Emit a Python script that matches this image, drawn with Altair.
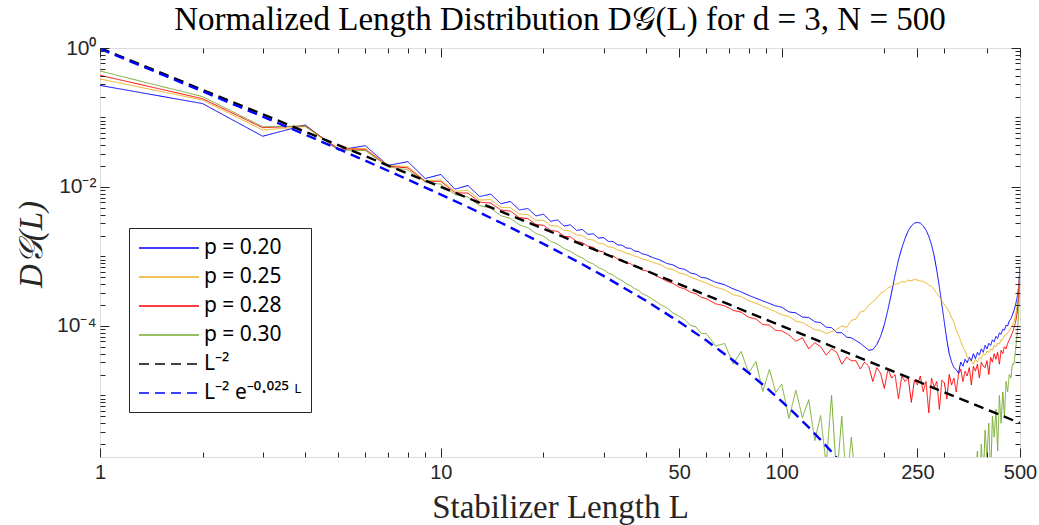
import altair as alt
import pandas as pd

# ---------------- data ----------------
# stabilizer lengths sampled (x positions)
L_grid = (list(range(1, 41)) + list(range(42, 61, 2)) +
          list(range(64, 97, 4)) + list(range(100, 501, 5)))

# decade exponent of D(L) (None = zero count, not drawn)
p20_exp = [
    -0.538, -0.80, -1.27, -1.108, -1.47, -1.406, -1.69, -1.636, -1.878, -1.82,
    -2.033, -1.978, -2.138, -2.102, -2.242, -2.208, -2.331, -2.31, -2.417, -2.392,
    -2.494, -2.475, -2.563, -2.545, -2.626, -2.61, -2.683, -2.674, -2.735, -2.729,
    -2.783, -2.785, -2.832, -2.838, -2.878, -2.883, -2.921, -2.93, -2.962, -2.974,
    -3.019, -3.052, -3.101, -3.122, -3.170, -3.187, -3.238, -3.255, -3.301, -3.310,
    -3.372, -3.407, -3.466, -3.509, -3.560, -3.601, -3.640, -3.676, -3.712,
    -3.73, -3.798, -3.812, -3.872, -3.878, -3.940, -3.952, -4.018, -4.025, -4.095, -4.098, -4.160, -4.172,
    -4.21, -4.25, -4.30, -4.35, -4.34, -4.27, -4.15, -3.98, -3.76, -3.52, -3.27, -3.05, -2.88, -2.74,
    -2.63, -2.56, -2.52, -2.51,
    -2.52, -2.56, -2.62, -2.71, -2.83, -2.99, -3.20, -3.44, -3.70, -3.95, -4.20, -4.40, -4.52, -4.60,
    -4.63, -4.68,
    -4.52, -4.58, -4.48, -4.53, -4.45, -4.50, -4.40, -4.47, -4.38, -4.42, -4.33, -4.38, -4.28, -4.33,
    -4.25, -4.28, -4.20, -4.23, -4.15, -4.18, -4.10, -4.12, -4.05, -4.06, -3.99, -4.00, -3.93, -3.90,
    -3.84, -3.78, -3.70, -3.60, -3.45, -3.15,
]
p25_exp = [
    -0.446, -0.749, -1.18, -1.13, -1.443, -1.446, -1.69, -1.706, -1.91, -1.90,
    -2.063, -2.048, -2.188, -2.182, -2.292, -2.298, -2.391, -2.396, -2.478, -2.482,
    -2.554, -2.565, -2.624, -2.635, -2.691, -2.70, -2.753, -2.764, -2.81, -2.819,
    -2.863, -2.87, -2.907, -2.923, -2.953, -2.968, -2.996, -3.01, -3.037, -3.049,
    -3.087, -3.118, -3.170, -3.188, -3.238, -3.257, -3.295, -3.326, -3.357, -3.381,
    -3.442, -3.480, -3.550, -3.577, -3.636, -3.674, -3.714, -3.758, -3.795,
    -3.84, -3.862, -3.933, -3.951, -4.003, -4.054, -4.068, -4.11, -4.08, -4.05, -4.00, -4.02, -3.92,
    -3.90, -3.80, -3.78, -3.70, -3.65, -3.60, -3.53, -3.50, -3.45, -3.43, -3.40, -3.39, -3.36, -3.37,
    -3.34, -3.35, -3.33, -3.34,
    -3.35, -3.36, -3.38, -3.41, -3.43, -3.48, -3.53, -3.58, -3.64, -3.69, -3.74, -3.80, -3.88, -3.95,
    -4.06, -4.13,
    -4.22, -4.30, -4.36, -4.44, -4.49, -4.52, -4.55, -4.48, -4.52, -4.45, -4.47, -4.40, -4.42, -4.36,
    -4.38, -4.33, -4.35, -4.28, -4.30, -4.25, -4.26, -4.20, -4.19, -4.14, -4.13, -4.10, -4.07, -4.03,
    -3.99, -3.94, -3.85, -3.72, -3.52, -3.15,
]
p28_exp = [
    -0.393, -0.73, -1.147, -1.12, -1.45, -1.461, -1.70, -1.726, -1.92, -1.92,
    -2.083, -2.088, -2.218, -2.232, -2.332, -2.348, -2.441, -2.456, -2.538, -2.552,
    -2.624, -2.64, -2.709, -2.72, -2.781, -2.80, -2.853, -2.869, -2.92, -2.934,
    -2.983, -2.99, -3.037, -3.048, -3.093, -3.103, -3.146, -3.155, -3.197, -3.204,
    -3.257, -3.307, -3.356, -3.388, -3.443, -3.467, -3.515, -3.536, -3.587, -3.606,
    -3.682, -3.71, -3.775, -3.802, -3.876, -3.899, -3.979, -3.988, -4.065,
    -4.07, -4.13, -4.22, -4.17, -4.33, -4.24, -4.30, -4.42, -4.33, -4.38, -4.55, -4.45, -4.50,
    -4.50, -4.62, -4.52, -4.58, -4.80, -4.60, -4.68, -4.90, -4.62, -4.75, -4.70, -5.05, -4.72, -4.80,
    -4.75, -5.10, -4.78, -4.85,
    -4.72, -4.95, -4.80, -5.25, -4.75, -4.88, -4.80, -5.20, -4.78, -4.82, -5.05, -4.70, -4.85, -4.75,
    -4.95, -4.70,
    -4.62, -4.80, -4.65, -4.72, -4.60, -4.85, -4.58, -4.65, -4.55, -4.75, -4.52, -4.58, -4.60, -4.50,
    -4.70, -4.45, -4.52, -4.40, -4.48, -4.38, -4.55, -4.35, -4.40, -4.30, -4.33, -4.25, -4.20, -4.15,
    -4.10, -4.03, -3.95, -3.83, -3.60, -3.15,
]
p30_exp = [
    -0.331, -0.70, -1.132, -1.125, -1.468, -1.476, -1.71, -1.756, -1.93, -1.96,
    -2.11, -2.145, -2.269, -2.304, -2.415, -2.452, -2.546, -2.586, -2.669, -2.709,
    -2.782, -2.824, -2.888, -2.926, -2.982, -3.022, -3.076, -3.108, -3.16, -3.19,
    -3.239, -3.268, -3.315, -3.347, -3.393, -3.419, -3.463, -3.487, -3.536, -3.558,
    -3.623, -3.69, -3.74, -3.814, -3.861, -3.912, -3.991, -4.014, -4.107, -4.108,
    -4.287, -4.253, -4.546, -4.367, -4.675, -4.511, -4.944, -4.626, -4.957,
    -4.836, -5.332, -4.927, -5.32, -5.061, -5.651, -5.289, -6.0, -5.0, -6.2, -5.3, -6.3, -5.6,
    -6.3, None, None, None, None, None, None, None, None, None, None, None, None, None,
    None, None, None, None,
    None, None, None, None, None, None, None, None, None, None, None, None, None, None,
    None, None,
    None, None, None, None, None, -6.2, None, -6.2, -5.8, -6.3, -5.7, -6.2, -5.5, -5.9,
    -5.4, -6.2, -5.3, -5.6, -5.2, -5.8, -5.0, -5.4, -4.95, -5.3, -4.8, -4.95, -4.7, -4.75,
    -4.55, -4.55, -4.35, -4.15, -3.85, -3.2,
]

# reference curves
ref1_L = [1, 500]
ref1_exp = [0.0, -5.398]
ref2_L = [1, 2, 3, 4, 5, 6, 8, 10, 12, 15, 20, 25, 30, 40, 50, 60, 70, 80, 90,
          100, 110, 120, 130, 140, 150]
ref2_exp = [-0.011, -0.624, -0.987, -1.247, -1.452, -1.621, -1.893, -2.109, -2.288,
            -2.515, -2.819, -3.067, -3.280, -3.638, -3.941, -4.207, -4.450, -4.675,
            -4.885, -5.086, -5.277, -5.461, -5.639, -5.812, -5.981]

series_names = ["p = 0.20", "p = 0.25", "p = 0.28", "p = 0.30"]
ref_names = ["L\u207b\u00b2", "L\u207b\u00b2 e\u207b\u2070\u00b7\u2070\u00b2\u2075 \u1d38"]
all_names = series_names + ref_names
colors = ["#0000FF", "#EDB120", "#FF0000", "#77AC30", "#000000", "#0000FF"]
dashes = [[1, 0], [1, 0], [1, 0], [1, 0], [10, 6], [10, 6]]

x_major = [1, 10, 50, 100, 250, 500]
x_minor = [2, 3, 4, 5, 6, 7, 8, 9, 20, 30, 40, 60, 70, 80, 90, 200, 300, 400]
y_major = [1, 1e-2, 1e-4]
y_major_labels = ["10\u2070", "10\u207b\u00b2", "10\u207b\u2074"]
y_minor = [k * 10.0 ** e for e in range(-6, 0) for k in range(1, 10)
           if k * 10.0 ** e >= 1.3e-6 and not (k == 1 and e in (-2, -4))]

# ---------------- tables ----------------
rows = []
for name, vals in zip(series_names, [p20_exp, p25_exp, p28_exp, p30_exp]):
    for L, v in zip(L_grid, vals):
        rows.append({"L": L, "D": (None if v is None else 10.0 ** v), "series": name})
df_p = pd.DataFrame(rows)

ref_rows = []
for name, Ls, vals in zip(ref_names, [ref1_L, ref2_L], [ref1_exp, ref2_exp]):
    for L, v in zip(Ls, vals):
        ref_rows.append({"L": L, "D": 10.0 ** v, "series": name})
df_ref = pd.DataFrame(ref_rows)

# ---------------- scales / axes ----------------
AX = "#262626"
x_scale = alt.Scale(type="log", domain=[1, 500], nice=False)
y_scale = alt.Scale(type="log", domain=[1.3e-6, 1], nice=False)
color_scale = alt.Scale(domain=all_names, range=colors)
dash_scale = alt.Scale(domain=all_names, range=dashes)

ylab_expr = " : ".join(
    f"abs(datum.value - {v}) < {v}*0.01 ? '{t}'" for v, t in zip(y_major, y_major_labels)
) + " : ''"

common = dict(grid=False, domain=False, tickColor=AX, tickWidth=1, zindex=2,
              labelOverlap=False, labelFlush=False)

x_bot_major = alt.Axis(orient="bottom", values=x_major, tickSize=9, offset=-9,
                       labelExpr="format(datum.value, 'd')", labelFont="Liberation Sans",
                       labelFontSize=20, labelColor=AX, labelPadding=5,
                       title="Stabilizer Length L", titleFont="Liberation Serif",
                       titleFontSize=33, titleFontWeight="normal", titleColor=AX,
                       titlePadding=9, **common)
x_bot_minor = alt.Axis(orient="bottom", values=x_minor, tickSize=5, offset=-5,
                       labels=False, title=None, **common)
x_top_major = alt.Axis(orient="top", values=x_major, tickSize=9, offset=-9,
                       labels=False, title=None, **common)
x_top_minor = alt.Axis(orient="top", values=x_minor, tickSize=5, offset=-5,
                       labels=False, title=None, **common)

y_left_major = alt.Axis(orient="left", values=y_major, tickSize=9, offset=-9,
                        labelExpr=ylab_expr, labelFont="Liberation Sans", labelFontSize=21,
                        labelColor=AX, labelPadding=4,
                        title="D\U0001d4a2(L)", titleFont="Liberation Serif", titleFontSize=33,
                        titleFontStyle="italic", titleFontWeight="normal", titleColor=AX,
                        titlePadding=8, titleY=196, **common)
y_left_minor = alt.Axis(orient="left", values=y_minor, tickSize=5, offset=-5,
                        labels=False, title=None, **common)
y_right_major = alt.Axis(orient="right", values=y_major, tickSize=9, offset=-9,
                         labels=False, title=None, **common)
y_right_minor = alt.Axis(orient="right", values=y_minor, tickSize=5, offset=-5,
                         labels=False, title=None, **common)

legend = alt.Legend(orient="none", legendX=29, legendY=180, title=None,
                    direction="vertical", labelFont="Noto Sans", labelFontSize=21,
                    labelColor="#000000", symbolType="M-3,0H3", symbolSize=400,
                    symbolOffset=20, labelOffset=24, symbolStrokeWidth=1.3,
                    rowPadding=8, padding=9, strokeColor=AX, fillColor="white",
                    cornerRadius=0, labelLimit=300)

lines = alt.Chart(df_p).mark_line(clip=True, strokeWidth=1,
                                  invalid="break-paths-show-domains").encode(
    x=alt.X("L:Q", scale=x_scale, axis=x_bot_major),
    y=alt.Y("D:Q", scale=y_scale, axis=y_left_major),
    color=alt.Color("series:N", scale=color_scale, legend=legend),
    strokeDash=alt.StrokeDash("series:N", scale=dash_scale, legend=legend),
)
refs = alt.Chart(df_ref).mark_line(clip=True, strokeWidth=2.4).encode(
    x=alt.X("L:Q", scale=x_scale, axis=x_bot_minor),
    y=alt.Y("D:Q", scale=y_scale, axis=y_left_minor),
    color=alt.Color("series:N", scale=color_scale, legend=legend),
    strokeDash=alt.StrokeDash("series:N", scale=dash_scale, legend=legend),
)
frame_a = alt.Chart(df_ref).mark_line(opacity=0).encode(
    x=alt.X("L:Q", scale=x_scale, axis=x_top_major),
    y=alt.Y("D:Q", scale=y_scale, axis=y_right_major),
)
frame_b = alt.Chart(df_ref).mark_line(opacity=0).encode(
    x=alt.X("L:Q", scale=x_scale, axis=x_top_minor),
    y=alt.Y("D:Q", scale=y_scale, axis=y_right_minor),
)

chart = alt.layer(lines, refs, frame_a, frame_b).resolve_axis(
    x="independent", y="independent"
).properties(
    width=920, height=409,
    title=alt.Title("Normalized Length Distribution D\U0001d4a2(L) for d = 3, N = 500",
                    font="Liberation Serif", fontSize=33, fontWeight="normal",
                    color="#000000", anchor="middle", offset=0),
    autosize=alt.AutoSizeParams(type="none"),
    padding={"left": 100, "top": 48, "right": 19, "bottom": 68},
).configure_view(stroke=AX, strokeWidth=1).configure(background="white")

chart.save("out.html", embed_options={"renderer": "svg", "actions": False})
